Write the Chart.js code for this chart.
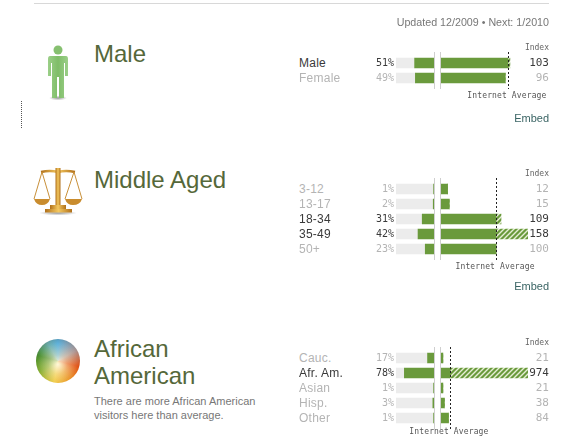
<!DOCTYPE html>
<html>
<head>
<meta charset="utf-8">
<title>Audience profile</title>
<script src="https://cdn.jsdelivr.net/npm/chart.js@4/dist/chart.umd.js"></script>
<style>
  html, body { margin: 0; background: #fff; overflow: hidden; }
  #page { position: relative; width: 586px; height: 438px; overflow: hidden; font-family: "Liberation Sans", sans-serif; }
  #page canvas, #page svg, .txt, .box { position: absolute; }
  .txt { white-space: nowrap; }
</style>
</head>
<body>
<div id="page">
  <svg style="left:0;top:0" width="586" height="438">
    <defs>
      <linearGradient id="gold" x1="0" x2="1" y1="0" y2="0">
        <stop offset="0" stop-color="#b0701a"/>
        <stop offset="0.5" stop-color="#f4c860"/>
        <stop offset="1" stop-color="#b0701a"/>
      </linearGradient>
      <linearGradient id="man" x1="0" x2="1" y1="0" y2="0">
        <stop offset="0" stop-color="#9bcf88"/>
        <stop offset="0.5" stop-color="#7fbd68"/>
        <stop offset="1" stop-color="#9bcf88"/>
      </linearGradient>
      <radialGradient id="blur">
        <stop offset="0" stop-color="#999"/>
        <stop offset="1" stop-color="#fff"/>
      </radialGradient>
    </defs>
    <!-- top rule and the stray dotted mark -->
    <line x1="34" x2="549" y1="3.5" y2="3.5" stroke="#d8d8d8"/>
    <line x1="21.5" x2="21.5" y1="101" y2="129" stroke="#555" stroke-dasharray="1 1"/>
    <!-- man -->
    <ellipse cx="58" cy="98" rx="9" ry="2.5" fill="url(#blur)"/>
    <circle cx="58" cy="50" r="4.5" fill="#86c070"/>
    <path d="M50 56 H66 Q68 56 68 59 V76 H65 V63 H64 V98 H59 V77 H57 V98 H52 V63 H51 V76 H48 V59 Q48 56 50 56 Z" fill="url(#man)"/>
    <!-- scales -->
    <ellipse cx="58" cy="213" rx="19" ry="2.5" fill="url(#blur)"/>
    <g fill="none" stroke="url(#gold)">
      <path d="M41 172 Q50 170 58 172 Q66 170 75 172" stroke-width="2.5"/>
      <path d="M42 172 L34 199 M42 172 L50 199 M74 172 L65 199 M74 172 L82 199" stroke="#c8903a" stroke-width="1"/>
    </g>
    <path d="M34 199 H50 Q48 205 42 205 Q36 205 34 199 Z M65 199 H82 Q80 205 73 205 Q67 205 65 199 Z" fill="#c98c2e"/>
    <rect x="55.5" y="168" width="5" height="38" fill="url(#gold)"/>
    <rect x="50" y="205" width="16" height="4" fill="url(#gold)"/>
    <rect x="45" y="209" width="27" height="3.5" fill="url(#gold)"/>
  </svg>
  <!-- sphere -->
  <div class="box" style="left:36px;top:339px;width:44px;height:44px;border-radius:50%;background:radial-gradient(circle at 50% 58%, rgba(255,250,225,.95) 0, rgba(255,245,210,.45) 28%, rgba(0,0,0,0) 62%, rgba(0,0,0,.2) 86%, rgba(0,0,0,.6) 100%), conic-gradient(#5fb2dc 0deg, #b09a98 60deg, #e04e10 105deg, #e8901c 150deg, #f0c83c 190deg, #80aa2c 240deg, #4c9030 285deg, #70b0b0 330deg, #5fb2dc 360deg);"></div>
</div>

<script>
"use strict";

const maleCategories = ["Male", "Female"];
const maleShare = [51, 49];
const maleIndex = [103, 96];

const ageCategories = ["3-12", "13-17", "18-34", "35-49", "50+"];
const ageShare = [1, 2, 31, 42, 23];
const ageIndex = [12, 15, 109, 158, 100];

const raceCategories = ["Cauc.", "Afr. Am.", "Asian", "Hisp.", "Other"];
const raceShare = [17, 78, 1, 3, 1];
const raceIndex = [21, 974, 21, 38, 84];

const GREEN = "#6a9a3c";
const TRACK = "#ececec";
const DARK = "#3a3a3a";
const LIGHT = "#b4b4b4";
const page = document.getElementById("page");

function addText(text, x, y, font, color, align) {
  let el = document.createElement("div");
  el.className = "txt";
  el.textContent = text;
  el.style.font = font;
  el.style.color = color;
  el.style.top = y - 9 + "px";
  el.style.height = "18px";
  el.style.lineHeight = "18px";
  if (align === "right") {
    el.style.right = 586 - x + "px";
  } else if (align === "center") {
    el.style.left = x + "px";
    el.style.transform = "translateX(-50%)";
  } else {
    el.style.left = x + "px";
  }
  page.appendChild(el);
  return el;
}

function addCanvas(left, top, width, height) {
  let canvas = document.createElement("canvas");
  canvas.width = width;
  canvas.height = height;
  canvas.style.left = left + "px";
  canvas.style.top = top + "px";
  page.appendChild(canvas);
  return canvas;
}

function hatchPattern() {
  let tile = document.createElement("canvas");
  tile.width = 5;
  tile.height = 5;
  let ctx = tile.getContext("2d");
  ctx.fillStyle = GREEN;
  ctx.fillRect(0, 0, 5, 5);
  ctx.strokeStyle = "#e6eed6";
  ctx.lineWidth = 1.4;
  ctx.beginPath();
  ctx.moveTo(-1, 6);
  ctx.lineTo(6, -1);
  ctx.moveTo(-1, 1);
  ctx.lineTo(1, -1);
  ctx.moveTo(4, 6);
  ctx.lineTo(6, 4);
  ctx.stroke();
  return ctx.createPattern(tile, "repeat");
}

// thin grey rule at the centre side of each half
const edgeLine = {
  id: "edgeLine",
  afterDraw(chart, args, opts) {
    let ctx = chart.ctx;
    let x = opts.side === "right" ? chart.chartArea.right + 0.5 : chart.chartArea.left - 0.5;
    ctx.save();
    ctx.strokeStyle = "#cfcfcf";
    ctx.beginPath();
    ctx.moveTo(x, 0);
    ctx.lineTo(x, chart.height);
    ctx.stroke();
    ctx.restore();
  },
};

// dotted internet average marker
const averageLine = {
  id: "averageLine",
  afterDraw(chart) {
    let ctx = chart.ctx;
    let x = Math.round(chart.scales.x.getPixelForValue(100)) + 0.5;
    ctx.save();
    ctx.strokeStyle = "#222";
    ctx.setLineDash([2, 2]);
    ctx.beginPath();
    ctx.moveTo(x, 0);
    ctx.lineTo(x, chart.height);
    ctx.stroke();
    ctx.restore();
  },
};

function baseOptions(maxValue, reverse, padding, side) {
  return {
    indexAxis: "y",
    responsive: false,
    animation: false,
    layout: { padding: padding },
    scales: {
      x: { display: false, stacked: true, min: 0, max: maxValue, reverse: reverse },
      y: { display: false, stacked: true },
    },
    plugins: {
      legend: { display: false },
      tooltip: { enabled: false },
      edgeLine: { side: side },
    },
  };
}

function drawPanel(categories, share, index, maxIndex, top) {
  let height = categories.length * 15 + 7;

  let leftChart = new Chart(addCanvas(396, top, 39, height), {
    type: "bar",
    data: {
      labels: categories,
      datasets: [
        { data: share, backgroundColor: GREEN, barThickness: 10 },
        { data: share.map((v) => 100 - v), backgroundColor: TRACK, barThickness: 10 },
      ],
    },
    options: baseOptions(100, true, { top: 3.5, bottom: 3.5, left: 0, right: 1 }, "right"),
    plugins: [edgeLine],
  });

  let rightChart = new Chart(addCanvas(440, top, 90, height), {
    type: "bar",
    data: {
      labels: categories,
      datasets: [
        { data: index.map((v) => Math.min(v, 100)), backgroundColor: GREEN, barThickness: 10 },
        { data: index.map((v) => Math.max(v - 100, 0)), backgroundColor: hatchPattern(), barThickness: 10 },
      ],
    },
    options: baseOptions(maxIndex, false, { top: 3.5, bottom: 3.5, left: 1, right: 2 }, "left"),
    plugins: [edgeLine, averageLine],
  });

  for (let i = 0; i < categories.length; i++) {
    let y = top + rightChart.scales.y.getPixelForValue(i);
    let color = index[i] > 100 ? DARK : LIGHT;
    addText(categories[i], 299, y, "12px 'Liberation Sans'", color).style.letterSpacing = "0.25px";
    addText(share[i] + "%", 394, y, "10px 'DejaVu Sans Mono'", color, "right");
    addText(index[i], 549, y, "11px 'DejaVu Sans Mono'", color, "right");
  }

  addText("Index", 549, top - 4, "8px 'DejaVu Sans Mono'", "#666", "right");
  let averageX = 440 + rightChart.scales.x.getPixelForValue(100);
  // keep the lowest label inside the page
  let averageY = Math.min(top + height + 7, 432);
  let averageEl = addText("Internet Average", averageX - 1, averageY, "8px 'DejaVu Sans Mono'", "#555", "center");
  averageEl.style.letterSpacing = "0.13px";
  averageEl.style.top = averageY - 5 + "px";
  averageEl.style.height = "10px";
  averageEl.style.lineHeight = "10px";
  return leftChart;
}

drawPanel(maleCategories, maleShare, maleIndex, 130, 52);
drawPanel(ageCategories, ageShare, ageIndex, 158, 178);
drawPanel(raceCategories, raceShare, raceIndex, 974, 347);

const titleFont = "24px 'Liberation Sans'";
const titleColor = "#55683a";
const noteFont = "11px 'Liberation Sans'";

addText("Updated 12/2009 \u2022 Next: 1/2010", 549, 22, "10.7px 'Liberation Sans'", "#777", "right");
addText("Male", 94, 54, titleFont, titleColor);
addText("Middle Aged", 94, 180, titleFont, titleColor);
addText("African", 94, 349, titleFont, titleColor);
addText("American", 94, 376, titleFont, titleColor);
addText("There are more African American", 94, 401, noteFont, "#777");
addText("visitors here than average.", 94, 415, noteFont, "#777");
addText("Embed", 549, 118, noteFont, "#3a6464", "right");
addText("Embed", 549, 286, noteFont, "#3a6464", "right");
</script>
</body>
</html>
